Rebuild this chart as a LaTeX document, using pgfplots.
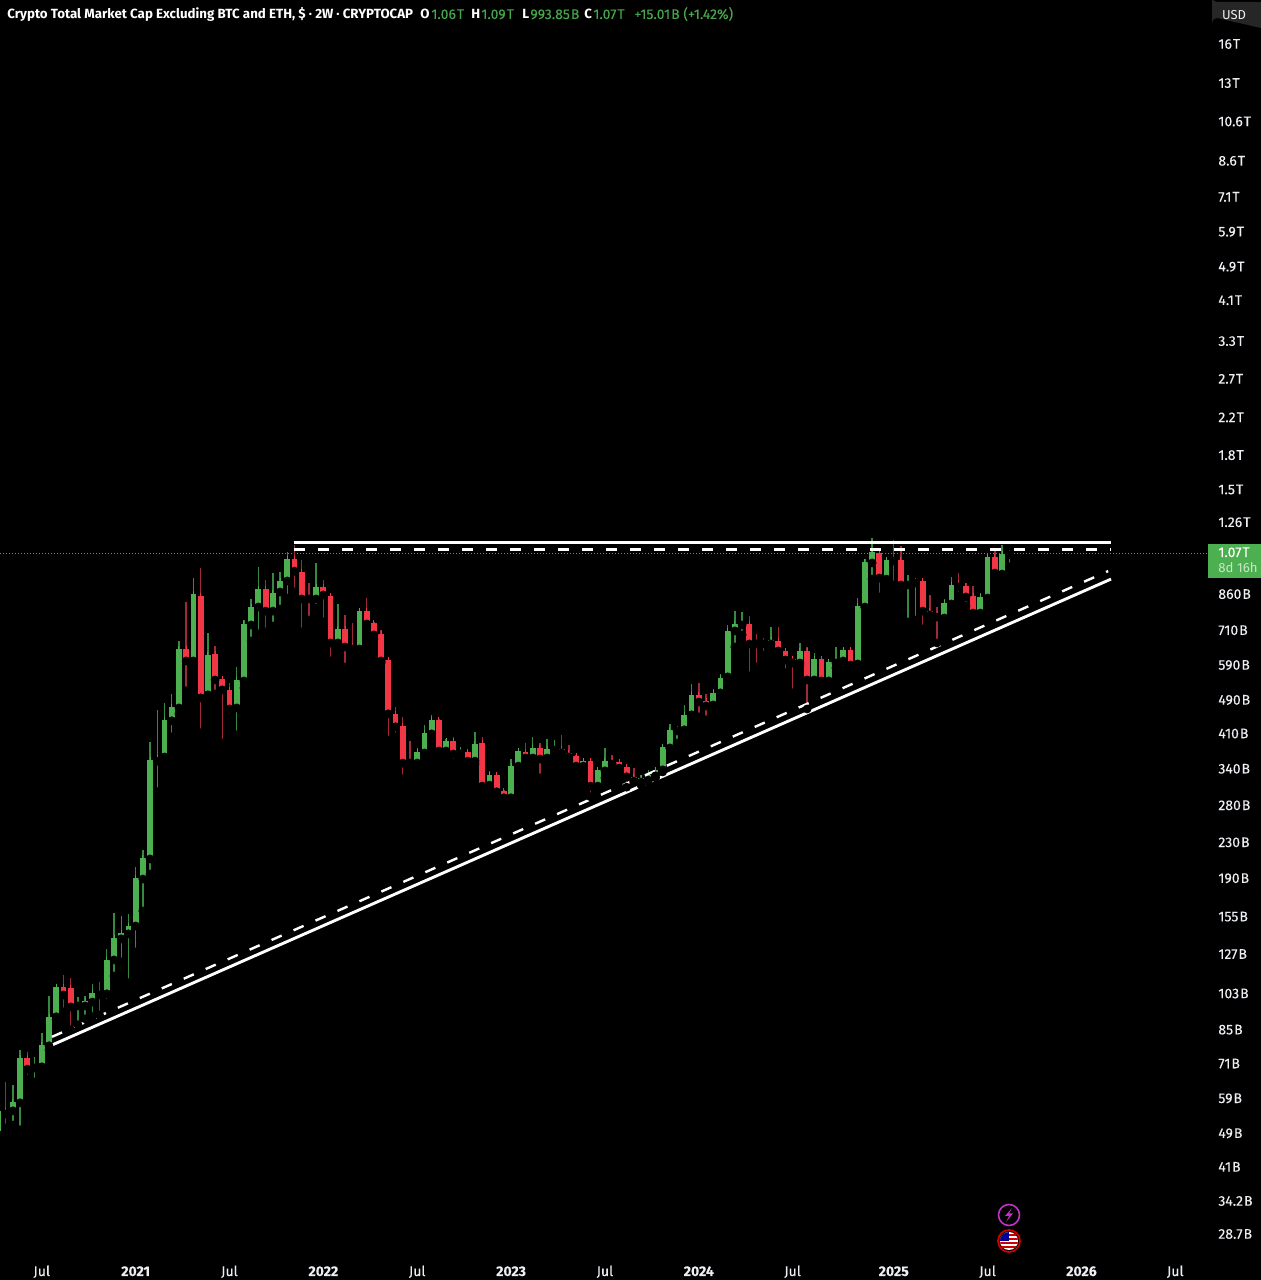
\documentclass[border=0pt]{standalone}
\usepackage{pgfplots}
\usepackage{pgfplotstable}
\usepackage{fontspec}
\setmainfont{Fira Sans}
\newfontfamily\tf[FakeBold=0.2]{Fira Sans}
\newcommand{\hsp}{\kern0.5pt}
\pgfplotsset{compat=1.18}
\definecolor{upc}{HTML}{4CAF50}
\definecolor{dnc}{HTML}{F23645}
\definecolor{upw}{HTML}{358A3F}
\definecolor{dnw}{HTML}{A12A3A}
\definecolor{axt}{HTML}{ECEEF2}
% bi-weekly candles, values in billions of USD; n = candle number
\pgfplotstableread{
n o h l c
-1 49.6 57.0 49.1 55.2
1 55.2 63.3 51.2 57.9
2 57.6 76.2 49.9 73.0
4 69.3 73.4 64.3 69.7
5 69.7 83.6 69.7 78.4
6 78.0 101.7 76.2 91.0
7 91.0 108.4 89.5 106.7
10 96.4 101.2 87.2 96.9
11 96.4 101.7 90.0 99.0
12 98.4 108.4 91.0 103.3
14 102.8 130.5 97.9 123.1
15 123.1 158 113 138.4
16 137.7 155.5 121.8 142.1
17 141.4 157.1 109 147.4
18 147.4 201.8 128.4 190.2
19 189.2 220.8 159.6 211.6
20 210.5 391.8 194.3 356
21 354 465 300.8 360
22 361.9 482.3 346.7 441
23 438.7 506 402.7 472
24 469.6 670.4 455.2 642.5
26 602.8 936.4 583.9 860.5
28 503.5 699.8 482.3 622.3
32 469.6 583.9 407 545
33 542.1 749.5 522.3 733.8
34 729.9 838 670.4 803
35 803 993.4 696.1 883.7
37 785.8 961.6 726 865.1
38 869.7 966.6 794.6 922.1
39 922.1 1075.5 842.4 1036
43 838 1014.7 798.8 893.2
46 663.4 816 646 714.5
49 642.5 790 635.6 785.8
57 350.4 379.5 343 371.6
58 369.7 429.4 363.8 411.4
59 409.2 452.8 391.8 441
61 373.6 398.5 360 394
63 367.7 381.5 358 369.7
65 354 413.6 348.5 387.7
67 311.6 336.2 299.2 329.2
70 291.4 358 288 344.8
71 344.8 375.6 329.2 373.6
73 360 402.7 348.5 379.5
75 360 398.5 350.4 377.5
76 375.6 396 360 379.5
80 344.8 358 338 354
82 310 341.2 306.7 338
83 336.2 379.5 323.9 354
88 316.6 329.2 311.6 323.9
89 320 338 316.6 329.2
90 327.4 341.2 323.9 338
91 338 385.6 334.4 381.5
92 379.5 431.7 379.5 418
93 415.8 424.9 389.7 420.4
94 418 477.5 411.4 452.8
95 452.8 533.6 434 503.5
98 477.2 519.6 457.7 508.8
99 508.8 562.9 500.8 551.1
100 554 729.9 542.1 707.2
101 707.2 785.8 649.4 733.8
102 729.9 781.6 692.4 733.8
106 659.8 722.1 646 674
110 596.4 663.4 590 635.6
112 545 629 540 609.2
114 542.1 609.2 539.2 599.6
115 596.4 649.4 580.8 602.8
116 602.8 646 575 639
118 593.3 842.4 577.7 807.3
119 803 1036 800 1020
120 1014.7 1158 931.4 1075.5
122 931.4 1047 922.1 1031
125 902.7 951.4 741.6 912.4
126 912.4 936.4 749.5 922.1
130 757.2 838 737.7 820.3
131 816 941.3 781.6 902.7
135 777.5 865.1 769.3 846.9
136 842.4 1070 820.3 1047
138 956.5 1116 941.3 1064
139 1060 1090 993.85 1070
}\upcandles
\pgfplotstableread{
n o h l c
0 55.2 64.3 50.4 54.3
3 73.0 75.4 65.4 68.9
8 106.7 113.6 93.4 102.2
9 106.1 111.8 84.9 95.9
13 103.3 109.5 91.9 102.2
25 642.5 824.7 514.3 602.8
27 851.4 988 411.4 495.5
29 625.6 652.8 506 545
30 548.1 554 389.7 517
31 517 536.4 448 467.1
36 883.7 927 703.5 785.8
40 1036 1116 869.7 971.8
41 966.6 1031 703.5 838
42 842.4 912.4 749.5 838
44 893.2 927 741.6 856
45 851.4 856 602.8 663.4
47 714.5 769.3 583.9 649.4
48 652.8 737.7 632.2 642.5
50 785.8 842.4 728 733.8
51 737.7 741.6 677.8 692.4
52 696.1 711 596.4 602.8
53 606 612.4 396 455.2
54 455.2 472 402.7 424.9
55 427.2 448 322.2 350.4
56 352.2 394 341.2 350.4
60 441 443.3 371.6 373.6
62 394 402.7 350.4 367.7
64 371.6 373.6 339.4 354
66 389.7 402.7 308.3 310
68 329.2 334.4 292.9 300.8
69 302.4 304 286.5 291.4
72 371.6 389.7 354 360
74 379.5 389.7 323.9 358
77 377.5 407 361.9 369.7
78 369.7 385.6 356 361.9
79 363.8 365.8 341.2 344.8
81 354 356 292.9 310
84 354 365.8 343 348.5
85 352.2 356 332.7 341.2
86 343 346.7 308.3 325.7
87 325.7 341.2 316.6 318.3
96 503.5 536.4 448 484.8
97 487.4 506 441 474.6
103 733.8 765.2 557 659.8
104 663.4 696.1 583.9 659.8
105 663.4 681.4 622.3 659.8
107 670.4 722.1 612.4 635.6
108 635.6 642.5 566 606
109 609.2 615.7 508.8 596.4
111 635.6 649.4 467.1 545
113 609.2 612.4 519.6 542.1
117 639 649.4 583.9 590.1
121 1070 1098 846.9 936.4
123 1036 1146 902.7 1025.6
124 1031 1110 874.3 902.7
127 922.1 927 714.5 785.8
128 785.8 856 765.2 769.3
129 773.4 803 663.4 761.2
132 907.5 961.6 851.4 893.2
133 897.9 912.4 807.3 846.9
134 851.4 897.9 753.1 777.5
137 1047 1098 927 961.6
}\dncandles
\begin{document}
\begin{tikzpicture}
\fill[black] (-2pt,-2pt) rectangle (632.5pt,642pt);
\begin{axis}[
  anchor=south west, at={(0pt,0pt)},
  scale only axis, width=630.5pt, height=640pt,
  ymode=log, log basis y=10,
  xmin=-0.79, xmax=173.87, ymin=22.47, ymax=20212,
  axis background/.style={fill=black},
  axis line style={draw=none},
  major tick length=0pt, minor tick length=0pt,
  ytick pos=right, yticklabel pos=right,
  xtick={5,18,31,44,57,70,83,96,109,123,136,149,162},
  xticklabels={Jul,\textbf{2021},Jul,\textbf{2022},Jul,\textbf{2023},Jul,\textbf{2024},Jul,\textbf{2025},Jul,\textbf{2026},Jul},
  x tick label style={font=\tf\fontsize{7}{8}\selectfont, text=axt, anchor=base, yshift=2pt, inner sep=0pt},
  ytick={16000,13000,10600,8600,7100,5900,4900,4100,3300,2700,2200,1800,1500,1260,860,710,590,490,410,340,280,230,190,155,127,103,85,71,59,49,41,34.2,28.7},
  yticklabels={16\hsp T,13\hsp T,10.6\hsp T,8.6\hsp T,7.1\hsp T,5.9\hsp T,4.9\hsp T,4.1\hsp T,3.3\hsp T,2.7\hsp T,2.2\hsp T,1.8\hsp T,1.5\hsp T,1.26\hsp T,860\hsp B,710\hsp B,590\hsp B,490\hsp B,410\hsp B,340\hsp B,280\hsp B,230\hsp B,190\hsp B,155\hsp B,127\hsp B,103\hsp B,85\hsp B,71\hsp B,59\hsp B,49\hsp B,41\hsp B,34.2\hsp B,28.7\hsp B},
  y tick label style={font=\tf\fontsize{7}{8}\selectfont, text=axt, anchor=west, xshift=-21.5pt, inner sep=0pt},
  every axis plot/.append style={forget plot},
]
% last price line
\addplot[black!50!white, line width=0.4pt, dash pattern=on 0.5pt off 1pt] coordinates {(-0.79,1070) (166.4,1070)};
% wicks
\addplot[only marks, mark=none, error bars/.cd, y dir=plus, y explicit, error mark=none,
  error bar style={draw=upw, line width=0.7pt, line cap=butt}]
  table[x=n, y=l, y error plus expr=\thisrow{h}-\thisrow{l}] {\upcandles};
\addplot[only marks, mark=none, error bars/.cd, y dir=plus, y explicit, error mark=none,
  error bar style={draw=dnw, line width=0.7pt, line cap=butt}]
  table[x=n, y=l, y error plus expr=\thisrow{h}-\thisrow{l}] {\dncandles};
% bodies
\addplot[only marks, mark=none, error bars/.cd, y dir=plus, y explicit, error mark=-,
  error mark options={draw=upc, line width=0.5pt, mark size=1.45pt, rotate=0},
  error bar style={draw=upc, line width=2.9pt, line cap=butt}]
  table[x=n, y=o, y error plus expr=\thisrow{c}-\thisrow{o}] {\upcandles};
\addplot[only marks, mark=none, error bars/.cd, y dir=plus, y explicit, error mark=-,
  error mark options={draw=dnc, line width=0.5pt, mark size=1.45pt, rotate=0},
  error bar style={draw=dnc, line width=2.9pt, line cap=butt}]
  table[x=n, y=c, y error plus expr=\thisrow{o}-\thisrow{c}] {\dncandles};
% trend lines
\addplot[white, line width=1.45pt] coordinates {(39.93,1134) (153.1,1134)};
\addplot[white, line width=1.2pt, dash pattern=on 5.5pt off 6.5pt] coordinates {(39.93,1090) (153.1,1090)};
\addplot[white, line width=1.45pt] coordinates {(5.86,77.6) (153.1,931.4)};
\addplot[white, line width=1.2pt, dash pattern=on 5.5pt off 6.5pt] coordinates {(6.41,81.8) (152.7,971.8)};
\end{axis}
% overlays, in reference pixels
\begin{scope}[x=0.5pt,y=-0.5pt,shift={(0pt,640pt)}]
\def\hf{\fontsize{6.65}{8}\selectfont}
\def\hv{\tf\fontsize{7}{8}\selectfont}
\definecolor{hg}{HTML}{46A64B}
\tikzset{ht/.style={anchor=base west, inner sep=0pt, font=\hf}, hn/.style={anchor=base west, inner sep=0pt, font=\hv}}
\node[ht,text=white] at (7,19) {\textbf{Crypto Total Market Cap Excluding BTC and ETH, \$ · 2W · CRYPTOCAP}};
\node[ht,text=white] at (420,19) {\textbf{O}};
\node[hn,text=hg] at (431,19) {1.06\hsp T};
\node[ht,text=white] at (471,19) {\textbf{H}};
\node[hn,text=hg] at (481,19) {1.09\hsp T};
\node[ht,text=white] at (522,19) {\textbf{L}};
\node[hn,text=hg] at (530,19) {993.85\hsp B};
\node[ht,text=white] at (584,19) {\textbf{C}};
\node[hn,text=hg] at (593,19) {1.07\hsp T};
\node[hn,text=hg] at (634,19) {+15.01\hsp B (+1.42\%)};
% currency box
\fill[black!85!white] (1261,2) -- (1217,2) arc[start angle=90,end angle=180,radius=5] -- (1212,23) arc[start angle=180,end angle=270,radius=5] -- (1261,28) -- cycle;
\node[anchor=center, inner sep=0pt, text=axt, font=\fontsize{6.5}{8}\selectfont] at (1234,15) {USD};
% last price tag
\fill[upc] (1208,544) rectangle (1261,578);
\node[anchor=base west, inner sep=0pt, text=white, font=\tf\fontsize{7}{8}\selectfont] at (1218,557) {1.07\hsp T};
\node[anchor=base west, inner sep=0pt, text=white!70!upc, font=\fontsize{6.6}{8}\selectfont] at (1218,573) {8d 16h};
% event icons
\draw[violet!60!magenta!80!white, line width=0.8pt] (1009,1215) circle (10.5);
\fill[violet!60!magenta!80!white] (1012,1208) -- (1005,1216) -- (1009,1216) -- (1006,1222) -- (1013,1213.5) -- (1009,1213.5) -- cycle;
\begin{scope}
\clip (1009,1241) circle (9);
\fill[white] (999,1231) rectangle (1019,1251);
\foreach \s in {1234,1238,1242,1246,1250} \fill[red!80!black] (999,\s) rectangle (1019,\s+2);
\fill[blue!60!black] (999,1231) rectangle (1009,1241);
\end{scope}
\draw[red!80!black, line width=0.9pt] (1009,1241) circle (11);
\end{scope}
\pgfresetboundingbox
\path[use as bounding box] (0pt,0pt) rectangle (630.5pt,640pt);
\end{tikzpicture}
\end{document}
